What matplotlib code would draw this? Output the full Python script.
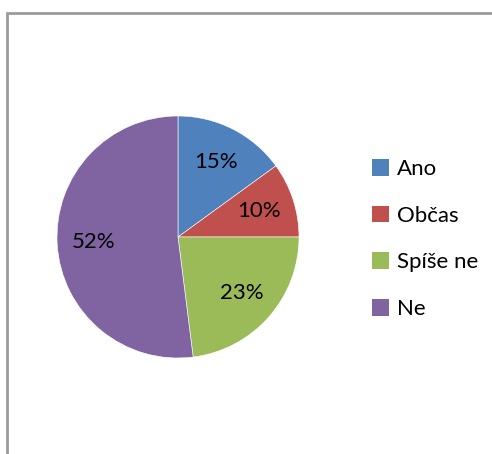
import matplotlib.pyplot as plt
from matplotlib.patches import Rectangle, Patch

labels = ['Ano', 'Občas', 'Spíše ne', 'Ne']
values = [15, 10, 23, 52]
colors = ['#4F81BD', '#C0504D', '#9BBB59', '#8064A2']

plt.rcParams['font.family'] = ['Lato', 'DejaVu Sans']

W, H = 492, 454
fig = plt.figure(figsize=(W / 100, H / 100), dpi=100)

# outer chart frame (only left and top edges visible)
fig.add_artist(Rectangle((7 / W, -0.2), 1.5, 1.2 - 13 / H, transform=fig.transFigure,
                         fill=False, edgecolor='#9a9a9a', linewidth=2))

cx, cy, r = 178, 237, 121
ax = fig.add_axes([(cx - r) / W, (H - cy - r) / H, 2 * r / W, 2 * r / H])
wedges, texts, autotexts = ax.pie(values, colors=colors, startangle=90, counterclock=False,
                                  autopct='%1.0f%%', pctdistance=0.7,
                                  wedgeprops=dict(edgecolor='white', linewidth=0.4),
                                  textprops=dict(fontsize=16, color='black'))
ax.set_xlim(-1, 1)
ax.set_ylim(-1, 1)
ax.set_aspect('auto')

handles = [Patch(facecolor=c, edgecolor='none') for c in colors]
fig.legend(handles, labels, loc='center left', bbox_to_anchor=(361 / W, 1 - 239 / H),
           frameon=False, fontsize=16, borderpad=0, handlelength=0.78, handleheight=0.78,
           handletextpad=0.32, labelspacing=1.2)

fig.savefig('out.png', dpi=100)
